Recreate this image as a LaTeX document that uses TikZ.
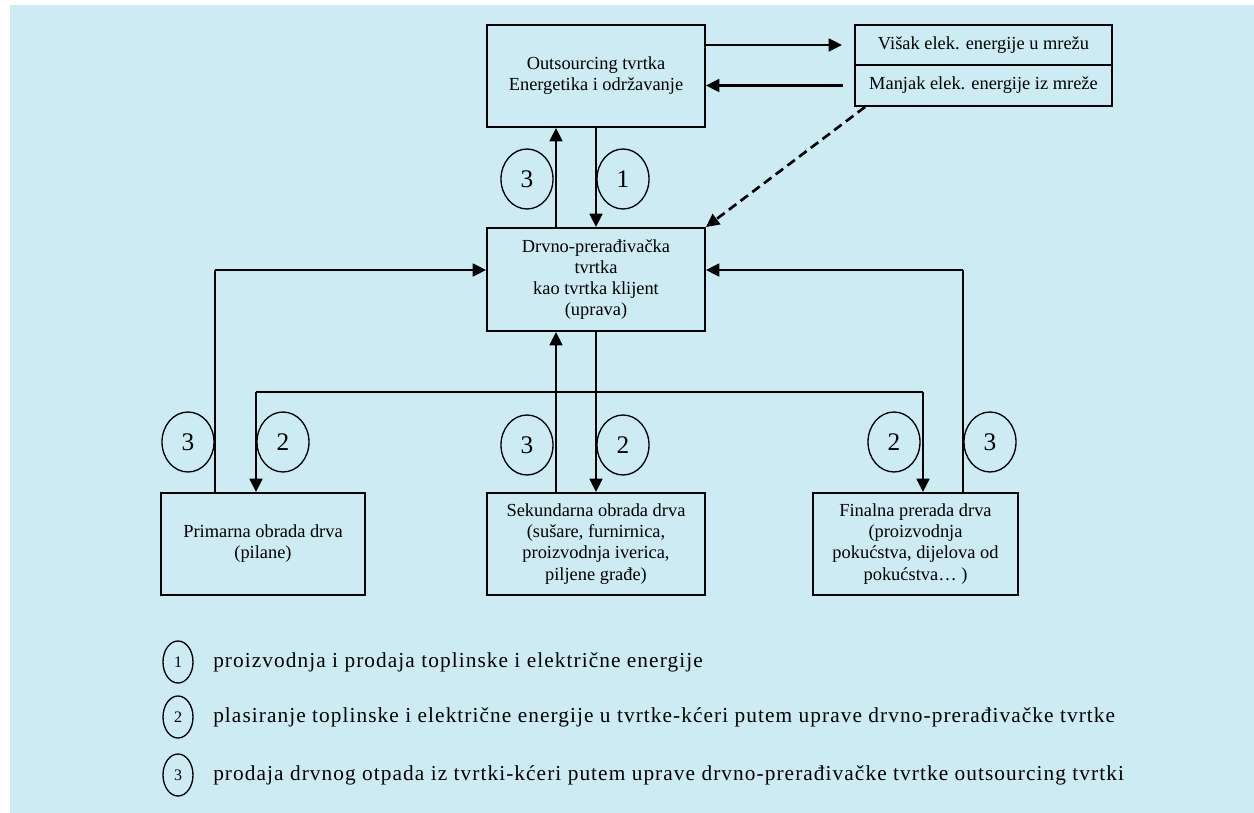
\documentclass[tikz,border=0pt]{standalone}
\usepackage{fontspec}
\setmainfont{Liberation Serif}
\newfontfamily\legfont[LetterSpace=5]{Liberation Serif}
\usetikzlibrary{arrows.meta,shapes.geometric,calc}
\definecolor{panel}{RGB}{205,235,243}
\tikzset{
  box/.style={draw, line width=1.4pt, inner sep=0pt, align=center,
    font=\fontsize{13.8pt}{15.8pt}\selectfont},
  numring/.style={draw, ellipse, line width=1pt, inner sep=0pt,
    minimum width=52*0.75pt, minimum height=60*0.75pt,
    font=\fontsize{19pt}{19pt}\selectfont},
  legring/.style={draw, ellipse, line width=1pt, inner sep=0pt,
    minimum width=30*0.75pt, minimum height=42*0.75pt,
    font=\fontsize{12pt}{12pt}\selectfont},
  legtext/.style={anchor=west, inner sep=0pt,
    font=\legfont\fontsize{16pt}{18pt}\selectfont},
  heavy/.style={line width=2pt},
  light/.style={line width=0.9pt},
  arr/.style={heavy, -{Triangle[length=10pt,width=9.5pt]}},
}
\begin{document}
\begin{tikzpicture}[x=0.75pt,y=-0.75pt]
\useasboundingbox (0,0) rectangle (1254,813);
\fill[panel] (10,5) rectangle (1254,813);

% boxes
\node[box, minimum width=218*0.75pt, minimum height=102*0.75pt] (out) at (596,76)
  {Outsourcing tvrtka\\Energetika i održavanje};
\node[box, minimum width=257*0.75pt, minimum height=40*0.75pt] (visak) at (983.5,45)
  {Višak elek. energije u mrežu};
\node[box, minimum width=257*0.75pt, minimum height=41*0.75pt] (manjak) at (983.5,85.5)
  {Manjak elek. energije iz mreže};
\node[box, minimum width=218*0.75pt, minimum height=103*0.75pt] (drvno) at (596,279.5)
  {Drvno-prerađivačka\\tvrtka\\kao tvrtka klijent\\(uprava)};
\node[box, minimum width=204*0.75pt, minimum height=102*0.75pt] (prim) at (263,544)
  {Primarna obrada drva\\(pilane)};
\node[box, minimum width=218*0.75pt, minimum height=102*0.75pt] (sek) at (596,544)
  {Sekundarna obrada drva\\(sušare, furnirnica,\\proizvodnja iverica,\\piljene građe)};
\node[box, minimum width=205*0.75pt, minimum height=102*0.75pt] (fin) at (915.5,544)
  {Finalna prerada drva\\(proizvodnja\\pokućstva, dijelova od\\pokućstva… )};

% exchange with the grid
\draw[arr, shorten >=9pt] (out.east |- visak) -- (visak.west);
\draw[arr, shorten <=8pt] (manjak.west) -- (out.east |- manjak);
\draw[arr, dashed, dash pattern=on 7pt off 4pt]
  ($(manjak.south west)+(11,0)$) -- (drvno.north east);

% outsourcing <-> client company
\draw[arr] ($(drvno.north)+(-40,0)$) -- ($(out.south)+(-40,0)$);
\draw[arr] (out.south) -- (drvno.north);

% waste from the subsidiaries back to the client company
\coordinate (lt) at (215,270);
\coordinate (rt) at (963,270);
\draw[light] (prim.north -| lt) -- (lt);
\draw[arr] (lt) -- (drvno.west |- lt);
\draw[light] (fin.north -| rt) -- (rt);
\draw[arr] (rt) -- (drvno.east |- rt);
\draw[arr] ($(sek.north)+(-40,0)$) -- ($(drvno.south)+(-40,0)$);

% energy distribution to the subsidiaries
\coordinate (hub) at (596,392);
\coordinate (hl) at (256,392);
\coordinate (hr) at (923,392);
\draw[light] (drvno.south) -- (hub);
\draw[heavy] (hl) -- (hr);
\draw[arr] (hl) -- (prim.north -| hl);
\draw[arr] (hr) -- (fin.north -| hr);
\draw[arr] (hub) -- (sek.north);

% flow markers
\node[numring] (m3a) at (527,179) {3};
\node[numring] (m1a) at (623,179) {1};
\node[numring] (m3b) at (188,442) {3};
\node[numring] (m2b) at (283,442) {2};
\node[numring] (m3c) at (527,445) {3};
\node[numring] (m2c) at (623,445) {2};
\node[numring] (m2d) at (894,442) {2};
\node[numring] (m3d) at (990,442) {3};

% legend
\node[legring] (l1) at (178,662) {1};
\node[legring] (l2) at (178,717) {2};
\node[legring] (l3) at (178,775) {3};
\node[legtext] (t1) at (213,662) {proizvodnja i prodaja toplinske i električne energije};
\node[legtext] (t2) at (213,717) {plasiranje toplinske i električne energije u tvrtke-kćeri putem uprave drvno-prerađivačke tvrtke};
\node[legtext] (t3) at (213,775) {prodaja drvnog otpada iz tvrtki-kćeri putem uprave drvno-prerađivačke tvrtke outsourcing tvrtki};
\end{tikzpicture}
\end{document}
